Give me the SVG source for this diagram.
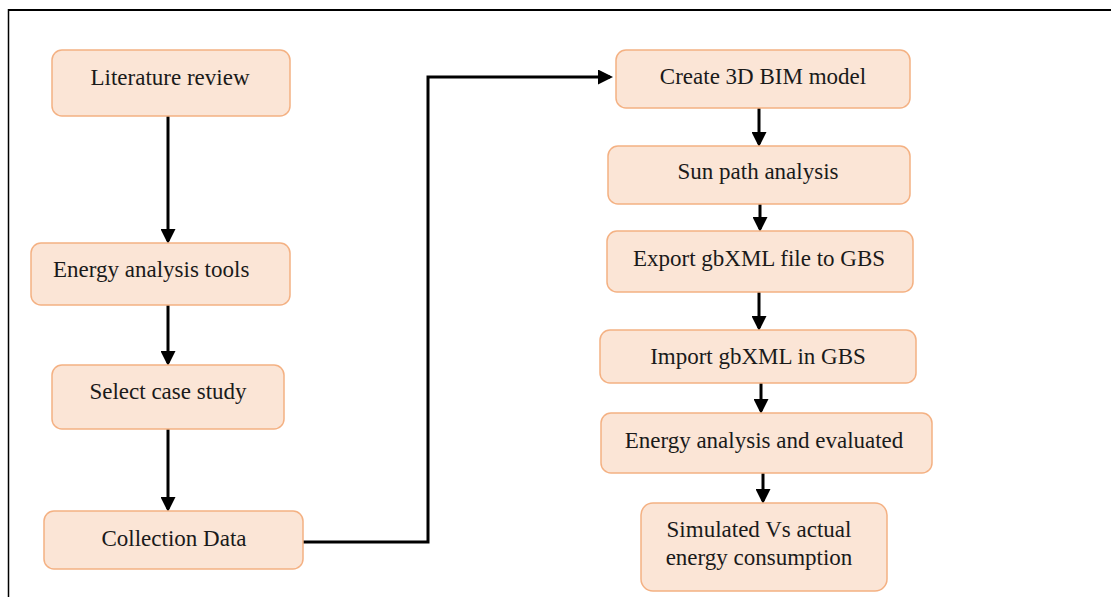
<svg xmlns="http://www.w3.org/2000/svg" width="1111" height="597" viewBox="0 0 1111 597">
<style>
.box{fill:#fbe5d6;stroke:#f4b183;stroke-width:1.5}
.t{font-family:"Liberation Serif","Times New Roman",serif;font-size:23px;fill:#1a1a1a;text-anchor:middle}
.c{fill:none;stroke:#000;stroke-width:3}
</style>
<defs>
<marker id="ah" markerWidth="5" markerHeight="5" refX="4" refY="2.5" orient="auto" markerUnits="strokeWidth">
<path d="M0,0 L5,2.5 L0,5 Z" fill="#000"/>
</marker>
</defs>
<rect width="1111" height="597" fill="#fff"/>
<g id="frame">
<line x1="8" y1="10" x2="1111" y2="10" stroke="#000" stroke-width="2"/>
<line x1="8.5" y1="9" x2="8.5" y2="597" stroke="#000" stroke-width="1.5"/>
</g>
<g id="connectors">
<line class="c" x1="168" y1="116" x2="168" y2="241" marker-end="url(#ah)"/>
<line class="c" x1="168" y1="305" x2="168" y2="363" marker-end="url(#ah)"/>
<line class="c" x1="168" y1="429" x2="168" y2="509" marker-end="url(#ah)"/>
<polyline class="c" points="303,542 428,542 428,77 610,77" marker-end="url(#ah)"/>
<line class="c" x1="759" y1="108" x2="759" y2="144" marker-end="url(#ah)"/>
<line class="c" x1="760" y1="204" x2="760" y2="229" marker-end="url(#ah)"/>
<line class="c" x1="759" y1="292" x2="759" y2="328" marker-end="url(#ah)"/>
<line class="c" x1="761" y1="383" x2="761" y2="411" marker-end="url(#ah)"/>
<line class="c" x1="763" y1="473" x2="763" y2="501" marker-end="url(#ah)"/>
</g>
<g id="n1"><rect class="box" x="52" y="50" width="238" height="66" rx="10"/><text class="t" x="170" y="85">Literature review</text></g>
<g id="n2"><rect class="box" x="31" y="243" width="259" height="62" rx="10"/><text class="t" x="53" y="277" style="text-anchor:start">Energy analysis tools</text></g>
<g id="n3"><rect class="box" x="52" y="365" width="232" height="64" rx="10"/><text class="t" x="168" y="399">Select case study</text></g>
<g id="n4"><rect class="box" x="44" y="511" width="259" height="58" rx="10"/><text class="t" x="174" y="546">Collection Data</text></g>
<g id="n5"><rect class="box" x="616" y="50" width="294" height="58" rx="10"/><text class="t" x="763" y="84">Create 3D BIM model</text></g>
<g id="n6"><rect class="box" x="608" y="146" width="302" height="58" rx="10"/><text class="t" x="758" y="179">Sun path analysis</text></g>
<g id="n7"><rect class="box" x="607" y="231" width="306" height="61" rx="10"/><text class="t" x="759" y="266">Export gbXML file to GBS</text></g>
<g id="n8"><rect class="box" x="600" y="330" width="316" height="53" rx="10"/><text class="t" x="758" y="364">Import gbXML in GBS</text></g>
<g id="n9"><rect class="box" x="601" y="413" width="331" height="60" rx="10"/><text class="t" x="764" y="448">Energy analysis and evaluated</text></g>
<g id="n10"><rect class="box" x="641" y="503" width="246" height="88" rx="12"/><text class="t" x="759" y="537">Simulated Vs actual</text><text class="t" x="759" y="565">energy consumption</text></g>
</svg>
